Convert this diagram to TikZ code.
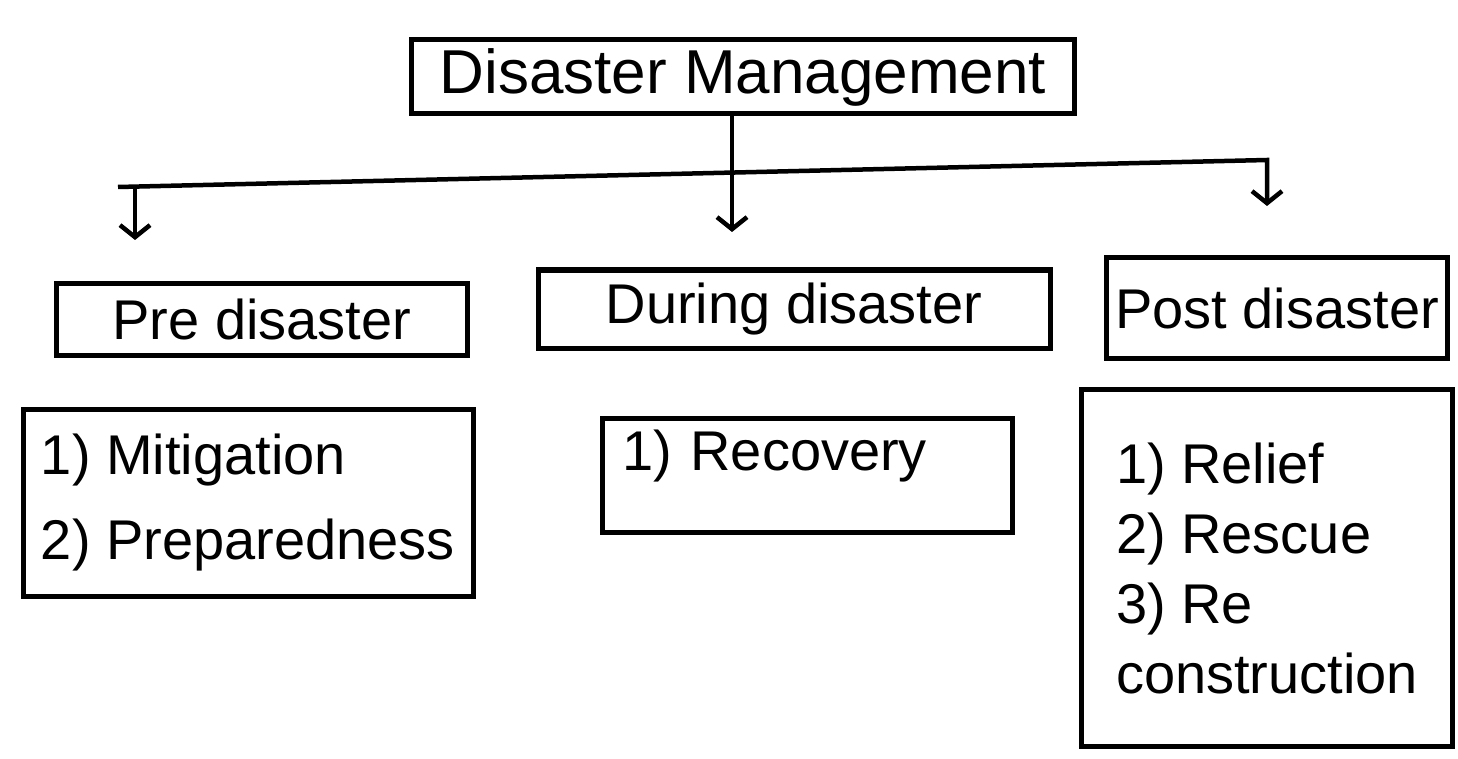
\documentclass[tikz,border=0pt]{standalone}
\usepackage{fontspec}
\setmainfont{Liberation Sans}
\usetikzlibrary{positioning, arrows.meta}

\begin{document}
\begin{tikzpicture}[
    x=1pt, y=-1pt,
    >={Straight Barb[length=12pt, width=30pt]},
    box/.style={
        draw, line width=5pt, inner sep=0pt,
        font=\fontsize{56}{68}\selectfont,
    },
    listbox/.style={
        draw, line width=5pt, inner sep=0pt,
        font=\fontsize{56}{70}\selectfont, align=left,
    },
    arr/.style={->, line width=4.5pt},
]

% page area
\useasboundingbox (0,0) rectangle (1458,759);

% root
\node[box, minimum width=663pt, minimum height=74pt,
      font=\fontsize{62}{72}\selectfont] (dm) at (743,77) {Disaster Management};

% branch ends
\coordinate (barL)    at (118,187);
\coordinate (barR)    at (1267,160);
\coordinate (preTip)  at (135,240);
\coordinate (durTip)  at (732,232);
\coordinate (postTip) at (1267,206);

% --- branches ---
\draw[arr] (barL) -- (barR) -- (postTip);
\draw[arr] (barL -| preTip) -- (preTip);
\draw[arr] (dm.south -| durTip) -- (durTip);

% phases
\node[box, minimum width=411pt, minimum height=72pt]  (pre)    at (262,319)  {Pre disaster};
\node[box, minimum width=512pt, minimum height=78pt]  (during) at (794,309)  {During disaster};
\node[box, minimum width=341pt, minimum height=100pt] (post)   at (1277,308) {Post disaster};

% activities
\node[listbox, minimum width=450pt, minimum height=187pt] (mit) at (248,503)
    {1) Mitigation\\[15pt]2) Preparedness};
\node[listbox, minimum width=410pt, minimum height=114pt,
      text width=370pt, text height=52pt, text depth=62pt] (rec) at (807,475) {1) Recovery};
\node[listbox, minimum width=371pt, minimum height=357pt] (relief) at (1267,568)
    {1) Relief\\2) Rescue\\3) Re\\construction};

\end{tikzpicture}
\end{document}
